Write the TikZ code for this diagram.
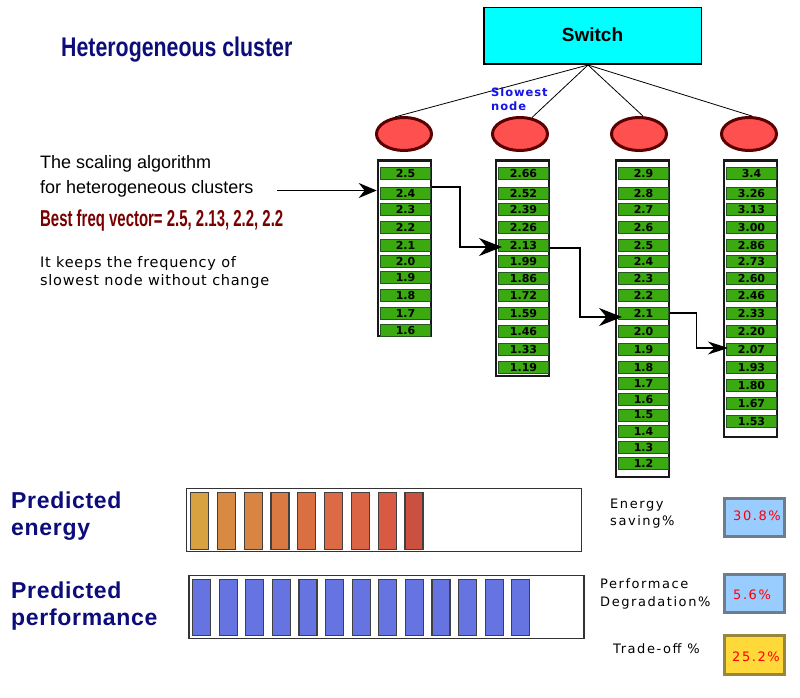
\documentclass[tikz,border=0pt]{standalone}
\usepackage{fontspec}
\setmainfont{Liberation Sans}
\newfontfamily\dv{DejaVu Sans}
\newfontfamily\condT[FakeStretch=0.79]{Liberation Sans}
\newfontfamily\condB[FakeStretch=0.65]{Liberation Sans}
\usetikzlibrary{arrows.meta,shapes.geometric,calc}

\definecolor{navy}{RGB}{12,12,122}
\definecolor{swcyan}{RGB}{0,255,255}
\definecolor{ovalred}{RGB}{255,80,80}
\definecolor{ovalborder}{RGB}{90,0,0}
\definecolor{grn}{RGB}{58,170,16}
\definecolor{grnb}{RGB}{40,85,40}
\definecolor{darkred}{RGB}{122,0,0}
\definecolor{slowblue}{RGB}{20,20,235}
\definecolor{perfblue}{RGB}{102,116,226}
\definecolor{lightblue}{RGB}{153,204,255}
\definecolor{boxgray}{RGB}{110,125,140}
\definecolor{yel}{RGB}{255,216,58}
\definecolor{olivebd}{RGB}{150,135,60}
\definecolor{valred}{RGB}{255,0,0}
\definecolor{eb0}{RGB}{216,162,64}
\definecolor{eb1}{RGB}{216,138,66}
\definecolor{eb2}{RGB}{216,132,66}
\definecolor{eb3}{RGB}{218,122,66}
\definecolor{eb4}{RGB}{218,112,66}
\definecolor{eb5}{RGB}{220,106,68}
\definecolor{eb6}{RGB}{218,100,68}
\definecolor{eb7}{RGB}{216,90,66}
\definecolor{eb8}{RGB}{204,80,64}

\tikzset{
  colbox/.style={draw=black!90, line width=2.5pt, fill=white, minimum width=53pt, inner sep=0pt},
  fqbox/.style={draw=grnb, fill=grn, line width=1pt, minimum width=50pt, minimum height=12pt, inner sep=0pt,
    font=\dv\bfseries\fontsize{11}{12}\selectfont},
  oval/.style={ellipse, fill=ovalred, draw=ovalborder, line width=3pt, minimum width=55pt, minimum height=33pt, inner sep=0pt},
  link/.style={draw=black, line width=0.8pt},
  arr/.style={draw=black, line width=1.6pt, -{Stealth[length=23pt,width=18pt]}},
  arrfirst/.style={draw=black, line width=1.5pt, -{Stealth[length=18pt,width=15pt]}},
  arrsmall/.style={draw=black, line width=1.2pt, -{Stealth[length=20pt,width=13pt]}},
  lbl/.style={anchor=base west, inner sep=0pt},
  frame/.style={draw=black!80, line width=1.2pt, fill=white, minimum width=395pt, minimum height=63pt, inner sep=0pt},
  ebar/.style={draw=black!75, line width=1.2pt, minimum width=18pt, minimum height=57pt, inner sep=0pt},
  pbar/.style={draw=black!75, line width=1.2pt, fill=perfblue, minimum width=18pt, minimum height=56pt, inner sep=0pt},
  valbox/.style={line width=3pt, minimum width=60pt, inner sep=0pt},
  rfont/.style={font=\dv\fontsize{13}{15}\selectfont\addfontfeature{LetterSpace=12}},
}

\begin{document}
\begin{tikzpicture}[x=1pt,y=-1pt]
\useasboundingbox[fill=white] (0,0) rectangle (800,698);

% title
\node[lbl, text=navy, font=\condT\bfseries\fontsize{27}{30}\selectfont] (title) at (61,56.7) {Heterogeneous cluster};

% switch
\node[draw=black, line width=1.5pt, fill=swcyan, minimum width=217.5pt, minimum height=56.5pt, inner sep=0pt,
  font=\bfseries\fontsize{19}{22}\selectfont] (sw) at (592.5,36) {\raisebox{3pt}{Switch}};

% ovals
\node[oval] (o1) at (404,134) {};
\node[oval] (o2) at (520,134) {};
\node[oval] (o3) at (639,134) {};
\node[oval] (o4) at (749,134) {};
\coordinate (hub) at ($(sw.south)+(-4.5,0)$);
\draw[link] (hub) -- (o1.117);
\draw[link] (hub) -- (o2.54);
\draw[link] (hub) -- (o3.77);
\draw[link] (hub) -- (o4.80);

\node[lbl, text=slowblue, font=\dv\bfseries\fontsize{11.5}{13}\selectfont\addfontfeature{LetterSpace=8}] (slow1) at (491,97) {Slowest};
\node[lbl, text=slowblue, font=\dv\bfseries\fontsize{11.5}{13}\selectfont\addfontfeature{LetterSpace=8}] (slow2) at (491,111) {node};

% columns
\node[colbox, minimum height=175.5pt] (col1) at (404.5,248) {};
\node[colbox, minimum height=215.5pt] (col2) at (522.5,268) {};
\node[colbox, minimum height=316.5pt] (col3) at (642.5,318.5) {};
\node[colbox, minimum height=276.5pt] (col4) at (750.5,298.5) {};

\def\ysA{{173,193,209,227,245,261,277,295,313,330}}
\def\ysB{{173,193,209,227,245,261,278,295,313,331,349,367,383,399,415,431,447,463}}
\def\ysC{{173,193,209,227,245,261,278,295,313,331,349,367,385,403,421}}

\foreach \v [count=\i] in {2.5,2.4,2.3,2.2,2.1,2.0,1.9,1.8,1.7,1.6}{
  \pgfmathparse{\ysA[\i-1]}\let\yy\pgfmathresult
  \node[fqbox] (n1-\i) at (405.5,\yy) {\v};
}
\foreach \v [count=\i] in {2.66,2.52,2.39,2.26,2.13,1.99,1.86,1.72,1.59,1.46,1.33,1.19}{
  \pgfmathparse{\ysB[\i-1]}\let\yy\pgfmathresult
  \node[fqbox] (n2-\i) at (523.5,\yy) {\v};
}
\foreach \v [count=\i] in {2.9,2.8,2.7,2.6,2.5,2.4,2.3,2.2,2.1,2.0,1.9,1.8,1.7,1.6,1.5,1.4,1.3,1.2}{
  \pgfmathparse{\ysB[\i-1]}\let\yy\pgfmathresult
  \node[fqbox] (n3-\i) at (643.5,\yy) {\v};
}
\foreach \v [count=\i] in {3.4,3.26,3.13,3.00,2.86,2.73,2.60,2.46,2.33,2.20,2.07,1.93,1.80,1.67,1.53}{
  \pgfmathparse{\ysC[\i-1]}\let\yy\pgfmathresult
  \node[fqbox] (n4-\i) at (751.5,\yy) {\v};
}

% left texts
\node[lbl, font=\fontsize{18}{21}\selectfont] (alg1) at (40,168) {The scaling algorithm};
\node[lbl, font=\fontsize{18}{21}\selectfont] (alg2) at (40,193) {for heterogeneous clusters};
\node[lbl, text=darkred, font=\condB\bfseries\fontsize{23}{26}\selectfont] (best) at (40,226) {Best freq vector= 2.5, 2.13, 2.2, 2.2};
\node[lbl, font=\dv\fontsize{14.5}{17}\selectfont\addfontfeature{LetterSpace=5}] (keep1) at (40,267) {It keeps the frequency of};
\node[lbl, font=\dv\fontsize{14.5}{17}\selectfont\addfontfeature{LetterSpace=5}] (keep2) at (40,285) {slowest node without change};

% arrows
\coordinate (s0) at (277,190.5);
\draw[arrfirst] (s0) -- (s0 -| col1.west);
\draw[arr] ($(col1.east |- n1-2)+(0,-6)$) -- ++(28,0) |- ($(n2-5.west)+(4,2)$);
\draw[arr] ($(col2.east |- n2-5)+(0,3)$) -- ++(30,0) |- ($(n3-9.west)+(4,4)$);
\draw[arrsmall] (col3.east |- n3-9) -- ++(26,0) |- ($(n4-11.west)+(2,-1)$);

% predicted labels
\node[lbl, text=navy, font=\bfseries\fontsize{23}{26}\selectfont\addfontfeature{LetterSpace=3}] (pe1) at (11,508) {Predicted};
\node[lbl, text=navy, font=\bfseries\fontsize{23}{26}\selectfont\addfontfeature{LetterSpace=3}] (pe2) at (11,535) {energy};
\node[lbl, text=navy, font=\bfseries\fontsize{23}{26}\selectfont\addfontfeature{LetterSpace=3}] (pp1) at (11,598) {Predicted};
\node[lbl, text=navy, font=\bfseries\fontsize{23}{26}\selectfont\addfontfeature{LetterSpace=3}] (pp2) at (11,625) {performance};

% bars
\node[frame] (eframe) at (384,520) {};
\foreach \c [count=\i from 0] in {eb0,eb1,eb2,eb3,eb4,eb5,eb6,eb7,eb8}{
  \node[ebar, fill=\c] (e\i) at ({199.5+26.8*\i},521) {};
}
\node[frame] (pframe) at (386.5,607) {};
\foreach \i in {0,...,12}{
  \node[pbar] (p\i) at ({201.5+26.6*\i},607.5) {};
}

% right side
\node[lbl, rfont] (es1) at (610,508) {Energy};
\node[lbl, rfont] (es2) at (610,525) {saving\%};
\node[lbl, rfont] (pd1) at (600,588) {Performace};
\node[lbl, rfont] (pd2) at (600,606) {Degradation\%};
\node[lbl, rfont] (tr) at (613,653) {Trade-off \%};

\node[valbox, draw=boxgray, fill=lightblue, minimum height=38pt] (vb1) at (754.5,517.5) {};
\node[valbox, draw=boxgray, fill=lightblue, minimum height=38pt] (vb2) at (754.5,593.5) {};
\node[valbox, draw=olivebd, fill=yel, minimum height=39pt] (vb3) at (754.5,655) {};
\node[lbl, rfont, text=valred] (v1) at (733,520) {30.8\%};
\node[lbl, rfont, text=valred] (v2) at (733,599) {5.6\%};
\node[lbl, rfont, text=valred] (v3) at (732,661) {25.2\%};
\end{tikzpicture}
\end{document}
